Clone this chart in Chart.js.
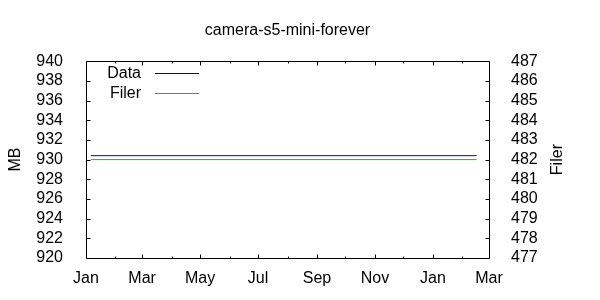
<!DOCTYPE html>
<html>
<head>
<meta charset="utf-8">
<script src="https://cdn.jsdelivr.net/npm/chart.js@4/dist/chart.umd.min.js"></script>
<style>
    html, body { margin: 0; padding: 0; background: #fff; }
    canvas { display: block; }
</style>
</head>
<body>
<canvas id="chart" width="600" height="300"></canvas>
<script>
// x values are days counted from 1 Jan of the first year
const monthStarts = [0, 31, 59, 90, 120, 151, 181, 212, 243, 273, 304, 334, 365, 396, 424]
const tickDays = [0, 59, 120, 181, 243, 304, 365, 424]
const tickLabels = ['Jan', 'Mar', 'May', 'Jul', 'Sep', 'Nov', 'Jan', 'Mar']

const sampleDays = [5, 411]
const dataValues = [930.4, 930.4]   // MB, left axis
const filerValues = [482, 482]      // Filer, right axis

const FONT = "'Liberation Sans', Arial, sans-serif"
Chart.defaults.font.family = FONT
Chart.defaults.font.size = 16
Chart.defaults.color = '#000'

const toPoints = (xs, ys) => xs.map((x, i) => ({x: x, y: ys[i]}))

// gnuplot-like frame, inward ticks, axis titles and key
const gnuplotLook = {
    id: 'gnuplotLook',
    afterDraw(chart) {
        const ctx = chart.ctx
        const area = chart.chartArea
        const xs = chart.scales.x
        const yl = chart.scales.y
        const yr = chart.scales.y2
        const L = Math.round(area.left) + 0.5
        const R = Math.round(area.right) + 0.5
        const T = Math.round(area.top) + 0.5
        const B = Math.round(area.bottom) + 0.5

        ctx.save()
        ctx.strokeStyle = '#000'
        ctx.lineWidth = 1
        ctx.beginPath()
        ctx.rect(L, T, R - L, B - T)

        monthStarts.forEach(d => {
            const px = Math.round(xs.getPixelForValue(d)) + 0.5
            const len = tickDays.includes(d) ? 4 : 2
            ctx.moveTo(px, B); ctx.lineTo(px, B - len)
            ctx.moveTo(px, T); ctx.lineTo(px, T + len)
        })
        yl.ticks.forEach(t => {
            const py = Math.round(yl.getPixelForValue(t.value)) + 0.5
            ctx.moveTo(L, py); ctx.lineTo(L + 4, py)
        })
        yr.ticks.forEach(t => {
            const py = Math.round(yr.getPixelForValue(t.value)) + 0.5
            ctx.moveTo(R, py); ctx.lineTo(R - 4, py)
        })
        ctx.stroke()

        // axis titles, both reading bottom to top
        ctx.fillStyle = '#000'
        ctx.font = '16px ' + FONT
        ctx.textAlign = 'center'
        ctx.textBaseline = 'middle'
        const midY = (area.top + area.bottom) / 2
        ;[['MB', 16], ['Filer', 558]].forEach(([text, x]) => {
            ctx.save()
            ctx.translate(x, midY)
            ctx.rotate(-Math.PI / 2)
            ctx.fillText(text, 0, 0)
            ctx.restore()
        })

        // key in the top left corner
        chart.data.datasets.forEach((ds, i) => {
            const y = Math.round(area.top + 12 + i * 20) + 0.5
            ctx.textAlign = 'right'
            ctx.fillText(ds.label, 141, y)
            ctx.strokeStyle = ds.borderColor
            ctx.beginPath()
            ctx.moveTo(155, y)
            ctx.lineTo(199, y)
            ctx.stroke()
        })
        ctx.restore()
    }
}

new Chart(document.getElementById('chart'), {
    type: 'line',
    data: {
        datasets: [
            {
                label: 'Data',
                data: toPoints(sampleDays, dataValues),
                yAxisID: 'y',
                borderColor: '#0000cc',
                borderWidth: 1,
                pointRadius: 0,
                tension: 0
            },
            {
                label: 'Filer',
                data: toPoints(sampleDays, filerValues),
                yAxisID: 'y2',
                borderColor: '#00cc00',
                borderWidth: 1,
                pointRadius: 0,
                tension: 0
            }
        ]
    },
    options: {
        responsive: false,
        animation: false,
        devicePixelRatio: 1,
        layout: {padding: 0},
        plugins: {
            legend: {display: false},
            tooltip: {enabled: false},
            title: {
                display: true,
                fullSize: false,
                text: 'camera-s5-mini-forever',
                font: {size: 16, weight: 'normal'},
                color: '#000',
                padding: {top: 21, bottom: 21}
            }
        },
        scales: {
            x: {
                type: 'linear',
                min: 0,
                max: 424,
                grid: {display: false},
                border: {display: false},
                afterBuildTicks: scale => {
                    scale.ticks = tickDays.map(v => ({value: v}))
                },
                ticks: {
                    autoSkip: false,
                    maxRotation: 0,
                    padding: 3,
                    callback: (v, i) => tickLabels[i]
                },
                afterFit: scale => { scale.height = 42 }
            },
            y: {
                position: 'left',
                min: 920,
                max: 940,
                grid: {display: false},
                border: {display: false},
                ticks: {stepSize: 2, padding: 15, autoSkip: false},
                afterFit: scale => { scale.width = 86 }
            },
            y2: {
                position: 'right',
                min: 477,
                max: 487,
                grid: {display: false},
                border: {display: false},
                ticks: {stepSize: 1, padding: 14, autoSkip: false},
                afterFit: scale => { scale.width = 111 }
            }
        }
    },
    plugins: [gnuplotLook]
})
</script>
</body>
</html>
